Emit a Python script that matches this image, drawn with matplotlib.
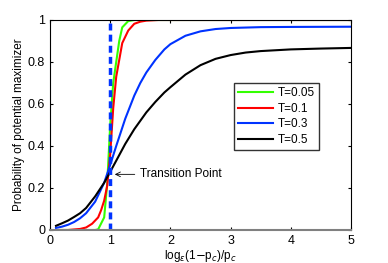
import matplotlib
matplotlib.use('Agg')
import matplotlib.pyplot as plt

plt.rcParams['font.family'] = ['Liberation Sans', 'DejaVu Sans']

# curve samples
x_black = [0.1, 0.2, 0.3, 0.4, 0.5, 0.6, 0.75, 0.9, 1.0, 1.1, 1.25, 1.4, 1.5, 1.6, 1.75, 1.9,
           2.0, 2.25, 2.5, 2.75, 3.0, 3.25, 3.5, 4.0, 4.5, 5.0]
y_black = [0.02, 0.032, 0.045, 0.062, 0.08, 0.105, 0.16, 0.225, 0.277, 0.33, 0.41, 0.48, 0.52, 0.56,
           0.61, 0.655, 0.68, 0.74, 0.785, 0.815, 0.833, 0.845, 0.852, 0.86, 0.864, 0.867]

x_blue = [0.1, 0.2, 0.3, 0.4, 0.5, 0.6, 0.75, 0.9, 1.0, 1.1, 1.25, 1.4, 1.5, 1.6, 1.75, 1.9,
          2.0, 2.25, 2.5, 2.75, 3.0, 3.5, 4.0, 5.0]
y_blue = [0.01, 0.016, 0.025, 0.038, 0.056, 0.08, 0.135, 0.225, 0.31, 0.4, 0.53, 0.64, 0.70, 0.75,
          0.81, 0.86, 0.885, 0.925, 0.946, 0.957, 0.962, 0.966, 0.967, 0.968]

x_red = [0.1, 0.3, 0.5, 0.6, 0.7, 0.8, 0.85, 0.9, 0.95, 1.0, 1.05, 1.1, 1.2, 1.3, 1.4, 1.5, 1.6, 1.8, 2.0, 3.0, 5.0]
y_red = [0.0, 0.0, 0.005, 0.012, 0.03, 0.06, 0.095, 0.14, 0.21, 0.36, 0.58, 0.73, 0.89, 0.95, 0.982, 0.992, 0.997, 1.0, 1.0, 1.0, 1.0]

x_green = [0.1, 0.5, 0.75, 0.8, 0.9, 0.95, 1.0, 1.05, 1.1, 1.15, 1.2, 1.3, 1.4, 2.0, 5.0]
y_green = [0.0, 0.0, 0.0, 0.003, 0.06, 0.22, 0.5, 0.7, 0.8, 0.9, 0.965, 0.995, 1.0, 1.0, 1.0]

labels = ['T=0.05', 'T=0.1', 'T=0.3', 'T=0.5']
transition_x = 1.0
transition_y = 0.265

fig = plt.figure(figsize=(3.88, 2.63), dpi=100)
ax = fig.add_axes([50 / 388, 33 / 263, 301 / 388, 210 / 263])

ax.plot(x_green, y_green, color='#33ff00', lw=1.5, label=labels[0])
ax.plot(x_red, y_red, color='#ff0000', lw=1.5, label=labels[1])
ax.plot(x_blue, y_blue, color='#0033ff', lw=1.5, label=labels[2])
ax.plot(x_black, y_black, color='black', lw=1.5, label=labels[3])
ax.plot([transition_x, transition_x], [0, 1], color='#0033ff', lw=2.5,
        linestyle=(0, (2, 1.2)))

ax.annotate('Transition Point', xy=(transition_x + 0.03, transition_y),
            xytext=(1.5, transition_y), fontsize=8.5, va='center',
            arrowprops=dict(arrowstyle='->', color='black', lw=0.6))

ax.set_xlim(0, 5)
ax.set_ylim(0, 1)
ax.set_xticks([0, 1, 2, 3, 4, 5])
ax.set_yticks([0, 0.2, 0.4, 0.6, 0.8, 1])
ax.set_yticklabels(['0', '0.2', '0.4', '0.6', '0.8', '1'])
ax.tick_params(labelsize=9, direction='in', length=2, top=True, right=True)
ax.spines['bottom'].set_color('#808080')
ax.spines['bottom'].set_linewidth(1.5)
ax.set_xlabel(r'log$_\epsilon$(1$-$p$_c$)/p$_c$', fontsize=8.5, labelpad=1)
ax.set_ylabel('Probability of potential maximizer', fontsize=8.5, labelpad=2)

ax.legend(loc='upper right', bbox_to_anchor=(0.894, 0.70), fontsize=8.5,
          frameon=True, fancybox=False, edgecolor='black', handlelength=3,
          borderpad=0.35, labelspacing=0.3, handletextpad=0.4, borderaxespad=0)

fig.savefig('out.png', dpi=100)
